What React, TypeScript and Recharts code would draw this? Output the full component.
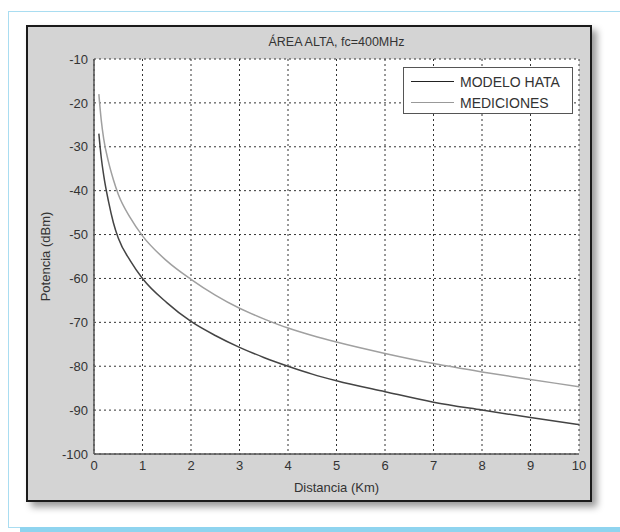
import React from 'react';
import { LineChart, Line, XAxis, YAxis, CartesianGrid, Legend } from 'recharts';

const distances = [0.1, 0.15, 0.2, 0.3, 0.4, 0.5, 0.75, 1, 1.5, 2, 2.5, 3, 3.5, 4, 4.5, 5, 6, 7, 8, 9, 10];
const hataModel = [-27, -32.5, -36.5, -42.5, -47.3, -50.8, -56, -60, -65.5, -69.8, -73, -75.7, -78, -80, -81.8, -83.3, -85.8, -88.2, -90, -91.7, -93.3];
const mediciones = [-18, -24, -28.2, -33.5, -37.5, -40.8, -46.2, -50.3, -56, -60.2, -63.8, -66.8, -69.2, -71.3, -73, -74.5, -77.1, -79.4, -81.3, -83, -84.7];

const xTicks = [0, 1, 2, 3, 4, 5, 6, 7, 8, 9, 10];
const yTicks = [-100, -90, -80, -70, -60, -50, -40, -30, -20, -10];

const seriesNames = { hata: 'MODELO HATA', med: 'MEDICIONES' };
const legendOrder = [seriesNames.hata, seriesNames.med];
const titleText = 'ÁREA ALTA, fc=400MHz';
const xLabel = 'Distancia (Km)';
const yLabel = 'Potencia (dBm)';

const rows = distances.map((d, i) => ({ d, hata: hataModel[i], med: mediciones[i] }));

const FONT = '"Liberation Sans", Arial, sans-serif';
const TEXT = '#333';
const BORDER = '#555';

const renderLegend = (props: any) => {
  const payload = [...(props.payload || [])].sort(
    (a: any, b: any) => legendOrder.indexOf(a.value) - legendOrder.indexOf(b.value)
  );
  return (
    <div
      style={{
        boxSizing: 'border-box',
        width: 170,
        height: 47,
        border: `1px solid ${BORDER}`,
        background: '#fff',
        paddingTop: 3,
        fontFamily: FONT,
      }}
    >
      {payload.map((p: any) => (
        <div key={p.value} style={{ display: 'flex', alignItems: 'center', height: 21 }}>
          <div style={{ width: 43, height: 0, borderTop: `1.5px solid ${p.value === seriesNames.hata ? '#222' : '#999'}`, marginLeft: 7 }} />
          <span style={{ marginLeft: 6, fontSize: 14, color: TEXT, lineHeight: '16px' }}>{p.value}</span>
        </div>
      ))}
    </div>
  );
};

export default function App() {
  return (
    <div
      style={{
        position: 'fixed',
        left: 0,
        top: 0,
        width: 620,
        height: 532,
        overflow: 'hidden',
        background: '#fff',
        fontFamily: FONT,
      }}
    >
      <div
        style={{
          position: 'absolute',
          left: 8,
          top: 11,
          width: 640,
          height: 515,
          borderTop: '1px solid #a9ddf1',
          borderLeft: '1px solid #a9ddf1',
          borderBottom: '1px solid #a9ddf1',
        }}
      />
      <div style={{ position: 'absolute', left: 20, top: 527, width: 620, height: 5, background: '#8fd4ef' }} />
      <div
        style={{
          position: 'absolute',
          left: 26,
          top: 25,
          width: 566,
          height: 477,
          boxSizing: 'border-box',
          background: '#d4d4d4',
          border: '2px solid #1a1a1a',
          boxShadow: '5px 5px 7px rgba(0,0,0,0.4)',
        }}
      />
      <div
        style={{
          position: 'absolute',
          left: 94,
          top: 34,
          width: 485,
          textAlign: 'center',
          fontSize: 12.5,
          lineHeight: '16px',
          color: TEXT,
        }}
      >
        {titleText}
      </div>
      <div style={{ position: 'absolute', left: 26, top: 25 }}>
        <LineChart
          width={566}
          height={477}
          data={rows}
          margin={{ top: 34, right: 13, left: 0, bottom: 0 }}
          style={{ fontFamily: FONT }}
        >
          <CartesianGrid stroke="#333" strokeDasharray="2 3" fill="#fff" fillOpacity={1} />
          <XAxis
            dataKey="d"
            type="number"
            domain={[0, 10]}
            ticks={xTicks}
            allowDataOverflow
            height={48}
            tickSize={0}
            tickMargin={7}
            tickLine={false}
            axisLine={{ stroke: BORDER, strokeWidth: 1.5 }}
            tick={{ fill: TEXT, fontSize: 13 }}
            label={{ value: xLabel, position: 'insideBottom', offset: 10, fill: TEXT, fontSize: 13 }}
          />
          <YAxis
            type="number"
            domain={[-100, -10]}
            ticks={yTicks}
            allowDataOverflow
            width={68}
            tickSize={0}
            tickMargin={6}
            tickLine={false}
            axisLine={{ stroke: BORDER, strokeWidth: 1.5 }}
            tick={{ fill: TEXT, fontSize: 13 }}
            label={{
              value: yLabel,
              angle: -90,
              position: 'insideLeft',
              offset: 19,
              fill: TEXT,
              fontSize: 13,
              style: { textAnchor: 'middle' },
            }}
          />
          <XAxis
            xAxisId="top"
            orientation="top"
            mirror
            type="number"
            domain={[0, 10]}
            ticks={xTicks}
            height={0}
            tick={false}
            tickSize={5}
            tickLine={{ stroke: BORDER }}
            axisLine={{ stroke: BORDER, strokeWidth: 1.5 }}
          />
          <XAxis
            xAxisId="bottomIn"
            orientation="bottom"
            mirror
            type="number"
            domain={[0, 10]}
            ticks={xTicks}
            height={0}
            tick={false}
            tickSize={5}
            tickLine={{ stroke: BORDER }}
            axisLine={false}
          />
          <YAxis
            yAxisId="leftIn"
            orientation="left"
            mirror
            type="number"
            domain={[-100, -10]}
            ticks={yTicks}
            width={0}
            tick={false}
            tickSize={5}
            tickLine={{ stroke: BORDER }}
            axisLine={false}
          />
          <YAxis
            yAxisId="right"
            orientation="right"
            mirror
            type="number"
            domain={[-100, -10]}
            ticks={yTicks}
            width={0}
            tick={false}
            tickSize={5}
            tickLine={{ stroke: BORDER }}
            axisLine={{ stroke: BORDER, strokeWidth: 1.5 }}
          />
          <Legend
            content={renderLegend}
            layout="horizontal"
            verticalAlign="middle"
            align="center"
            wrapperStyle={{ left: 377, top: 42, width: 170, height: 47 }}
          />
          <Line
            type="monotone"
            dataKey="hata"
            name={seriesNames.hata}
            stroke="#444"
            strokeWidth={1.5}
            dot={false}
            isAnimationActive={false}
          />
          <Line
            type="monotone"
            dataKey="med"
            name={seriesNames.med}
            stroke="#a0a0a0"
            strokeWidth={1.5}
            dot={false}
            isAnimationActive={false}
          />
        </LineChart>
      </div>
    </div>
  );
}
